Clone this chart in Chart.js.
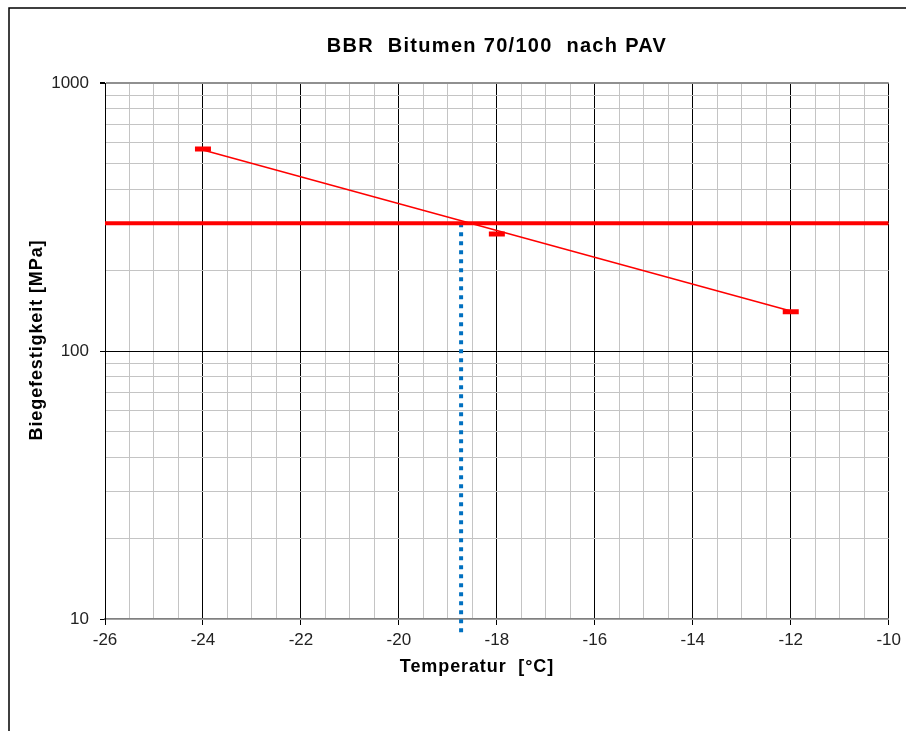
<!DOCTYPE html>
<html>
<head>
<meta charset="utf-8">
<script src="https://cdn.jsdelivr.net/npm/chart.js@4"></script>
<style>
  html, body { margin: 0; padding: 0; background: #fff; }
  #wrap { width: 906px; height: 731px; }
</style>
</head>
<body>
<div id="wrap"><canvas id="bbrChart" width="906" height="731"></canvas></div>
<script>
// BBR measurements (flexural strength vs. temperature)
const measTemps = [-24, -18, -12];
const measStrength = [567, 273, 140];

// regression line through the measurements
const trendTemps = [-24, -12];
const trendStrength = [562, 141];

// limit value and the temperature where it is reached
const limitTemps = [-26, -10];
const limitStrength = 300;
const critTemp = -18.73;
const critBottom = 8.9;

// axis ticks
const xTicks = [-26, -24, -22, -20, -18, -16, -14, -12, -10];
const yGridValues = [10, 20, 30, 40, 50, 60, 70, 80, 90,
  100, 200, 300, 400, 500, 600, 700, 800, 900, 1000];
const yLabels = [10, 100, 1000];

const FONT = "'Liberation Sans', Arial, sans-serif";

// frame line, chart title and axis titles
const framePlugin = {
  id: "frame",
  afterDraw(chart) {
    const ctx = chart.ctx;
    ctx.save();
    ctx.strokeStyle = "#000";
    ctx.lineWidth = 1.5;
    ctx.beginPath();
    ctx.moveTo(9, 731);
    ctx.lineTo(9, 8);
    ctx.lineTo(906, 8);
    ctx.stroke();

    ctx.fillStyle = "#000";
    ctx.textAlign = "center";
    ctx.textBaseline = "middle";
    ctx.font = "bold 20px " + FONT;
    ctx.letterSpacing = "1.3px";
    ctx.fillText("BBR  Bitumen 70/100  nach PAV", 497, 46);

    ctx.font = "bold 18px " + FONT;
    ctx.letterSpacing = "0.9px";
    ctx.fillText("Temperatur  [°C]", 477, 667);

    ctx.translate(37, 340);
    ctx.rotate(-Math.PI / 2);
    ctx.fillText("Biegefestigkeit [MPa]", 0, 0);
    ctx.restore();
  }
};

new Chart(document.getElementById("bbrChart"), {
  type: "scatter",
  data: {
    datasets: [
      {
        label: "Messwerte",
        data: measTemps.map((t, i) => ({ x: t, y: measStrength[i] })),
        pointStyle: "line",
        pointRadius: 8,
        pointBorderWidth: 5,
        borderColor: "#ff0000",
        backgroundColor: "#ff0000",
        showLine: false,
      },
      {
        label: "Regression",
        data: trendTemps.map((t, i) => ({ x: t, y: trendStrength[i] })),
        showLine: true,
        borderColor: "#ff0000",
        borderWidth: 1.5,
        pointRadius: 0,
      },
      {
        label: "Grenzwert",
        data: limitTemps.map(t => ({ x: t, y: limitStrength })),
        showLine: true,
        borderColor: "#ff0000",
        borderWidth: 4,
        pointRadius: 0,
      },
      {
        label: "Grenztemperatur",
        data: [{ x: critTemp, y: limitStrength }, { x: critTemp, y: critBottom }],
        showLine: true,
        borderColor: "#0070c0",
        borderWidth: 4,
        borderDash: [4, 5],
        borderCapStyle: "butt",
        pointRadius: 0,
        clip: false,
      },
    ],
  },
  options: {
    responsive: false,
    animation: false,
    layout: {
      autoPadding: false,
      padding: { left: 0, top: 83, right: 17, bottom: 0 },
    },
    plugins: {
      legend: { display: false },
      tooltip: { enabled: false },
    },
    scales: {
      x: {
        type: "linear",
        min: -26,
        max: -10,
        afterFit(scale) { scale.height = 112; },
        ticks: {
          stepSize: 0.5,
          autoSkip: false,
          maxRotation: 0,
          padding: 5,
          color: "#222",
          font: { family: FONT, size: 17 },
          callback: v => (xTicks.includes(v) ? String(v) : ""),
        },
        grid: {
          color: c => (xTicks.includes(c.tick.value) ? "#000" : "#c4c4c4"),
          tickColor: c => (xTicks.includes(c.tick.value) ? "#000" : "rgba(0,0,0,0)"),
          tickLength: 6,
          lineWidth: 1,
        },
        border: { color: "#808080", width: 1.5 },
      },
      y: {
        type: "logarithmic",
        min: 10,
        max: 1000,
        afterFit(scale) { scale.width = 105; },
        afterBuildTicks(scale) {
          scale.ticks = yGridValues.map(v => ({ value: v, major: yLabels.includes(v) }));
        },
        ticks: {
          autoSkip: false,
          padding: 11,
          color: "#222",
          font: { family: FONT, size: 17 },
          callback: v => (yLabels.includes(v) ? String(v) : ""),
        },
        grid: {
          color: c => {
            if (c.tick.value === 100) return "#000";
            if (c.tick.value === 1000) return "#909090";
            return "#c4c4c4";
          },
          lineWidth: c => (c.tick.value === 1000 ? 2 : 1),
          tickColor: c => (yLabels.includes(c.tick.value) ? "#000" : "rgba(0,0,0,0)"),
          tickLength: 5,
        },
        border: { color: "#000", width: 1 },
      },
    },
  },
  plugins: [framePlugin],
});
</script>
</body>
</html>
